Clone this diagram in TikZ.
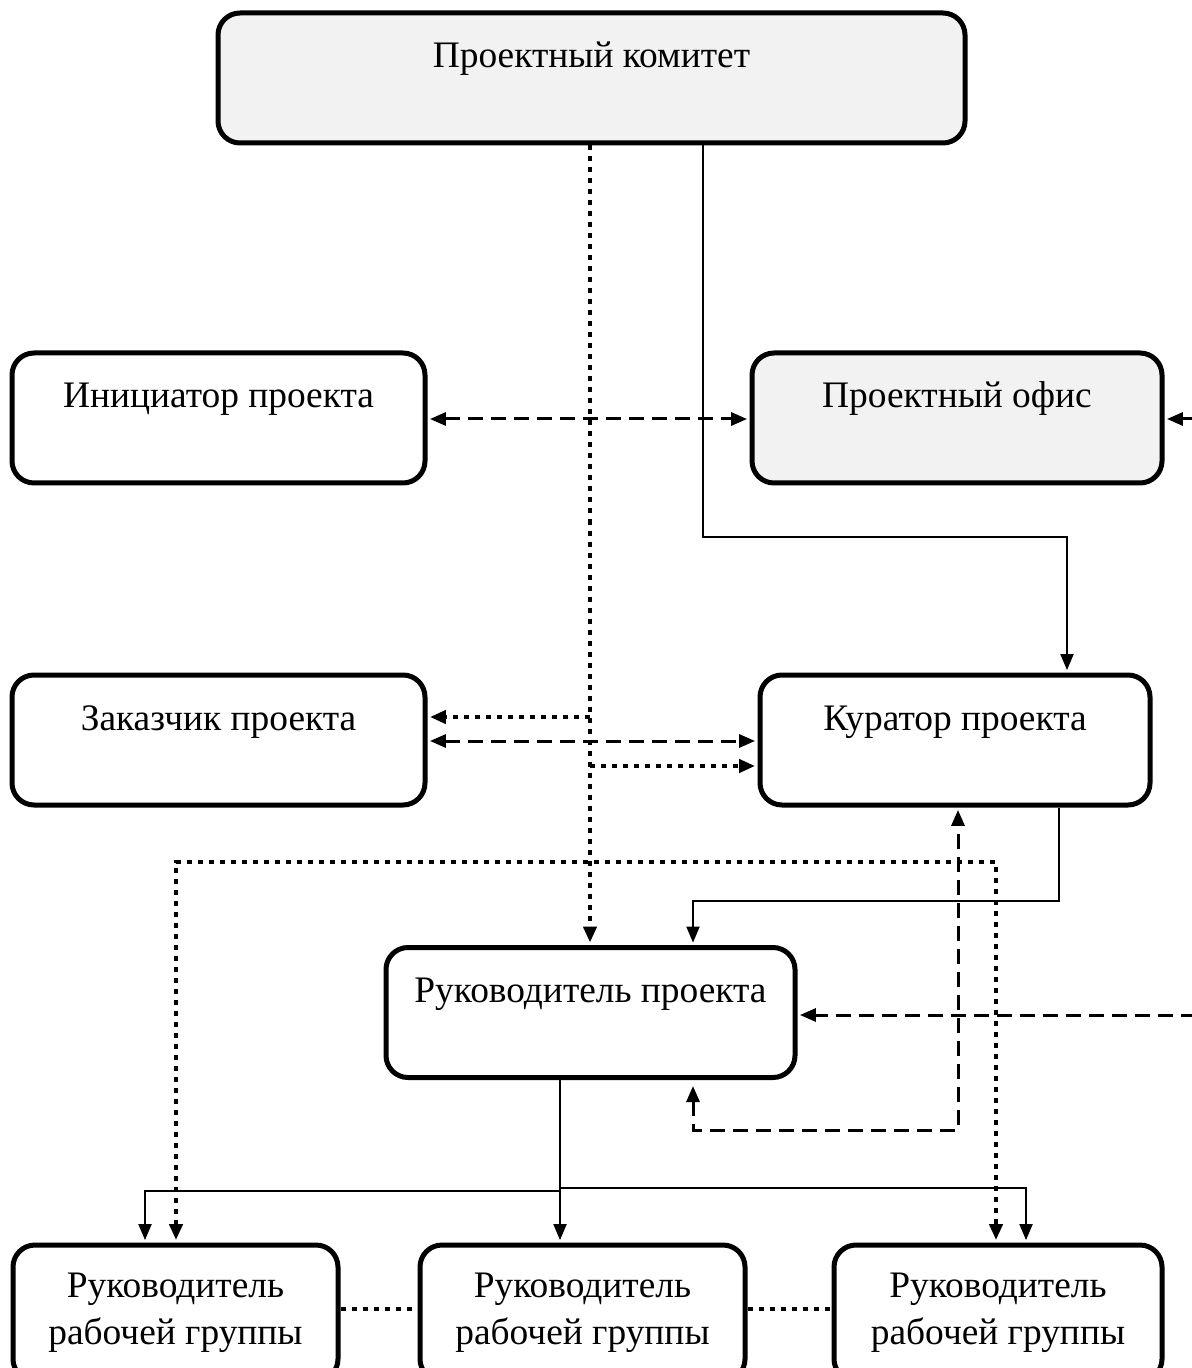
\documentclass[tikz,border=0pt]{standalone}
\usepackage{fontspec}
\setmainfont{Liberation Serif}
\usetikzlibrary{arrows.meta}
\definecolor{boxgray}{HTML}{F2F2F2}
\begin{document}
\begin{tikzpicture}[x=0.5pt,y=-0.5pt,
  box/.style={draw, line width=2.5pt, rounded corners=11pt, inner sep=0pt,
    minimum height=65pt, text height=27.5pt, text depth=37.5pt,
    font=\fontsize{18.7}{23.5}\selectfont},
  gbox/.style={draw, line width=2.5pt, rounded corners=11pt, inner sep=0pt,
    minimum height=68pt, align=center,
    font=\fontsize{18.7}{23.5}\selectfont},
  sol/.style={line width=1pt},
  dot/.style={line width=2pt, dash pattern=on 2.5pt off 3pt},
  dsh/.style={line width=1.5pt, dash pattern=on 7.5pt off 4pt},
  arr/.style={-{Triangle[length=8pt,width=6.5pt]}, shorten >=1.2pt},
  arrb/.style={{Triangle[length=8pt,width=6.5pt]}-{Triangle[length=8pt,width=6.5pt]}, shorten >=1.2pt, shorten <=1.2pt}
]
\useasboundingbox (0,0) rectangle (1191,1368);

% boxes
\node[box, fill=boxgray, minimum width=373.5pt] (kom) at (591.5,78) {Проектный комитет};
\node[box, minimum width=206.5pt] (init) at (218.5,418) {Инициатор проекта};
\node[box, fill=boxgray, minimum width=205pt] (office) at (957,418) {Проектный офис};
\node[box, minimum width=206.5pt] (zak) at (218.5,740) {Заказчик проекта};
\node[box, minimum width=195pt] (kur) at (955,740) {Куратор проекта};
\node[box, minimum width=204.5pt] (rp) at (590.5,1012.5) {Руководитель проекта};
\node[gbox, minimum width=162.5pt] (g1) at (175.5,1313) {Руководитель\\рабочей группы};
\node[gbox, minimum width=162.5pt] (g2) at (582.5,1313) {Руководитель\\рабочей группы};
\node[gbox, minimum width=164pt] (g3) at (998,1313) {Руководитель\\рабочей группы};

% helper coordinates
\coordinate (a1) at (703,537);
\coordinate (a2) at (1067,537);
\coordinate (d) at (590,0);
\coordinate (d1) at (590,717);
\coordinate (d2) at (590,766);
\coordinate (e1) at (176,862);
\coordinate (e2) at (996,862);
\coordinate (f) at (0,741);
\coordinate (r1) at (1196,419);
\coordinate (r2) at (1196,1015);
\coordinate (h1) at (693,1130);
\coordinate (h2) at (958,1130);
\coordinate (k1) at (1059,901);
\coordinate (k2) at (693,901);
\coordinate (m) at (560,1191);
\coordinate (m1) at (145,1191);
\coordinate (m2) at (560,1188);
\coordinate (m3) at (1026,1188);
\coordinate (n) at (0,1309);

% solid connectors
\draw[sol,arr] (kom.south -| a1) -- (a1) -- (a2) -- (kur.north -| a2);
\draw[sol,arr] (kur.south -| k1) -- (k1) -- (k2) -- (rp.north -| k2);
\draw[sol,arr] (rp.south -| m) -- (g2.north -| m);
\draw[sol,arr] (m) -- (m1) -- (g1.north -| m1);
\draw[sol,arr] (m2) -- (m3) -- (g3.north -| m3);

% dotted connectors
\draw[dot,arr] (kom.south -| d) -- (rp.north -| d);
\draw[dot,arr] (d1) -- (zak.east |- d1);
\draw[dot,arr] (d2) -- (kur.west |- d2);
\draw[dot,arrb] (g1.north -| e1) -- (e1) -- (e2) -- (g3.north -| e2);
\draw[dot] (g1.east |- n) -- (g2.west |- n);
\draw[dot] (g2.east |- n) -- (g3.west |- n);

% dashed connectors
\draw[dsh,arrb] (init.east |- r1) -- (office.west |- r1);
\draw[dsh,arrb] (zak.east |- f) -- (kur.west |- f);
\draw[dsh,arr] (r1) -- (office.east |- r1);
\draw[dsh,arr] (r2) -- (rp.east |- r2);
\draw[dsh,arrb,shorten <=3pt] (rp.south -| h1) -- (h1) -- (h2) -- (kur.south -| h2);
\end{tikzpicture}
\end{document}
